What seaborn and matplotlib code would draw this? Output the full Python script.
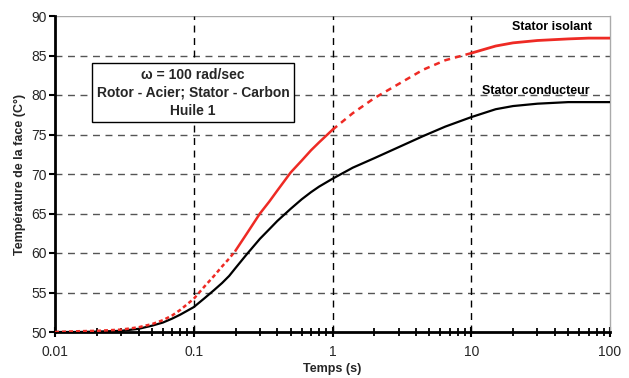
import numpy as np
import pandas as pd
import matplotlib
matplotlib.use("Agg")
import matplotlib.pyplot as plt
import seaborn as sns
from matplotlib.ticker import FixedLocator, FuncFormatter, LogLocator, NullFormatter

sns.set_theme(style="white")
plt.rcParams['font.family'] = ['Liberation Sans', 'DejaVu Sans']

# Data
temps = [0.01, 0.015, 0.02, 0.03, 0.04, 0.05, 0.06, 0.07, 0.08, 0.1, 0.12, 0.14, 0.16, 0.18,
         0.2, 0.24, 0.3, 0.35, 0.4, 0.5, 0.6, 0.7, 0.8, 1, 1.4, 2, 3, 4.5, 6.5, 10, 15, 20, 30,
         50, 70, 100]
stator_isolant = [50.0, 50.1, 50.15, 50.3, 50.6, 51.0, 51.5, 52.1, 52.8, 54.2, 55.8, 57.1, 58.3, 59.3,
                  60.3, 62.4, 65.0, 66.5, 67.9, 70.2, 71.7, 73.0, 74.0, 75.6, 77.7, 79.6, 81.4, 83.2, 84.4,
                  85.3, 86.2, 86.6, 86.9, 87.1, 87.2, 87.2]
stator_conducteur = [50.0, 50.0, 50.05, 50.15, 50.4, 50.8, 51.2, 51.7, 52.2, 53.15, 54.3, 55.3, 56.2, 57.1,
                     58.1, 59.8, 61.8, 63.0, 64.05, 65.6, 66.8, 67.7, 68.4, 69.4, 70.8, 72.0, 73.4, 74.8, 76.0,
                     77.2, 78.2, 78.6, 78.9, 79.1, 79.1, 79.1]
x_ticks = [0.01, 0.1, 1, 10, 100]
x_tick_labels = ["0.01", "0.1", "1", "10", "100"]
y_ticks = [50, 55, 60, 65, 70, 75, 80, 85, 90]

df = pd.DataFrame({"t": temps, "iso": stator_isolant, "cond": stator_conducteur})

fig = plt.figure(figsize=(6.29, 3.78), dpi=100)
ax = fig.add_axes([55/629, 1-332/378, (610-55)/629, (332-16)/378])
ax.set_xscale("log")

# grid
for yv in y_ticks[1:-1]:
    ax.axhline(yv, color="#555555", lw=1.0, ls=(0, (5, 4)), zorder=1)
ax.axhline(90, color="#aaaaaa", lw=1.0, zorder=1)
for xv in x_ticks[1:-1]:
    ax.axvline(xv, color="black", lw=1.0, ls=(0, (5, 4)), zorder=1)

# black curve
sns.lineplot(data=df, x="t", y="cond", ax=ax, color="black", lw=1.6, zorder=3,
             estimator=None, sort=False)

red = "#ee2a24"
seg1 = df[df.t <= 0.2]
seg2 = df[(df.t >= 0.2) & (df.t <= 1)]
seg3 = df[(df.t >= 1) & (df.t <= 10)]
seg4 = df[df.t >= 10]
sns.lineplot(data=seg1, x="t", y="iso", ax=ax, color=red, lw=1.8, zorder=4, estimator=None, sort=False,
             linestyle=(0, (1.6, 1.2)))
sns.lineplot(data=seg2, x="t", y="iso", ax=ax, color=red, lw=1.8, zorder=4, estimator=None, sort=False)
sns.lineplot(data=seg3, x="t", y="iso", ax=ax, color=red, lw=1.8, zorder=4, estimator=None, sort=False,
             linestyle=(0, (2.4, 2.0)))
sns.lineplot(data=seg4, x="t", y="iso", ax=ax, color=red, lw=2.0, zorder=4, estimator=None, sort=False)

ax.set_xlim(0.01, 100)
ax.set_ylim(50, 90)

ax.xaxis.set_major_locator(FixedLocator(x_ticks))
ax.xaxis.set_major_formatter(FuncFormatter(lambda v, p: x_tick_labels[x_ticks.index(v)] if v in x_ticks else ""))
ax.xaxis.set_minor_locator(LogLocator(base=10, subs=np.arange(2, 10)))
ax.xaxis.set_minor_formatter(NullFormatter())
ax.set_yticks(y_ticks)

ax.tick_params(axis="x", which="major", direction="inout", length=7, width=1.5, color="black",
               labelsize=10, pad=6, bottom=True)
ax.tick_params(axis="x", which="minor", direction="inout", length=6, width=1.3, color="black", bottom=True)
ax.tick_params(axis="y", which="major", direction="out", length=4, width=1.5, color="black",
               labelsize=10, pad=2, left=True)

for s in ["left", "bottom"]:
    ax.spines[s].set_color("black")
    ax.spines[s].set_linewidth(2.0)
ax.spines["right"].set_color("#aaaaaa")
ax.spines["right"].set_linewidth(1.0)
ax.spines["top"].set_visible(False)

ax.set_xlabel("Temps (s)", fontsize=9, fontweight="bold", labelpad=3)
ax.set_ylabel("Température de la face (C°)", fontsize=9, fontweight="bold", labelpad=4)

ax.text(0.895, 0.965, "Stator isolant", transform=ax.transAxes, ha="center", va="center",
        fontsize=9, fontweight="bold", color="black")
ax.text(0.867, 0.763, "Stator conducteur", transform=ax.transAxes, ha="center", va="center",
        fontsize=9, fontweight="bold", color="black")
ax.text(0.249, 0.757, "ω = 100 rad/sec\nRotor - Acier; Stator - Carbon\nHuile 1", transform=ax.transAxes,
        ha="center", va="center", fontsize=10, fontweight="bold", linespacing=1.35,
        bbox=dict(boxstyle="square,pad=0.35", fc="white", ec="black", lw=1.0), zorder=5)

fig.savefig("out.png", dpi=100)
